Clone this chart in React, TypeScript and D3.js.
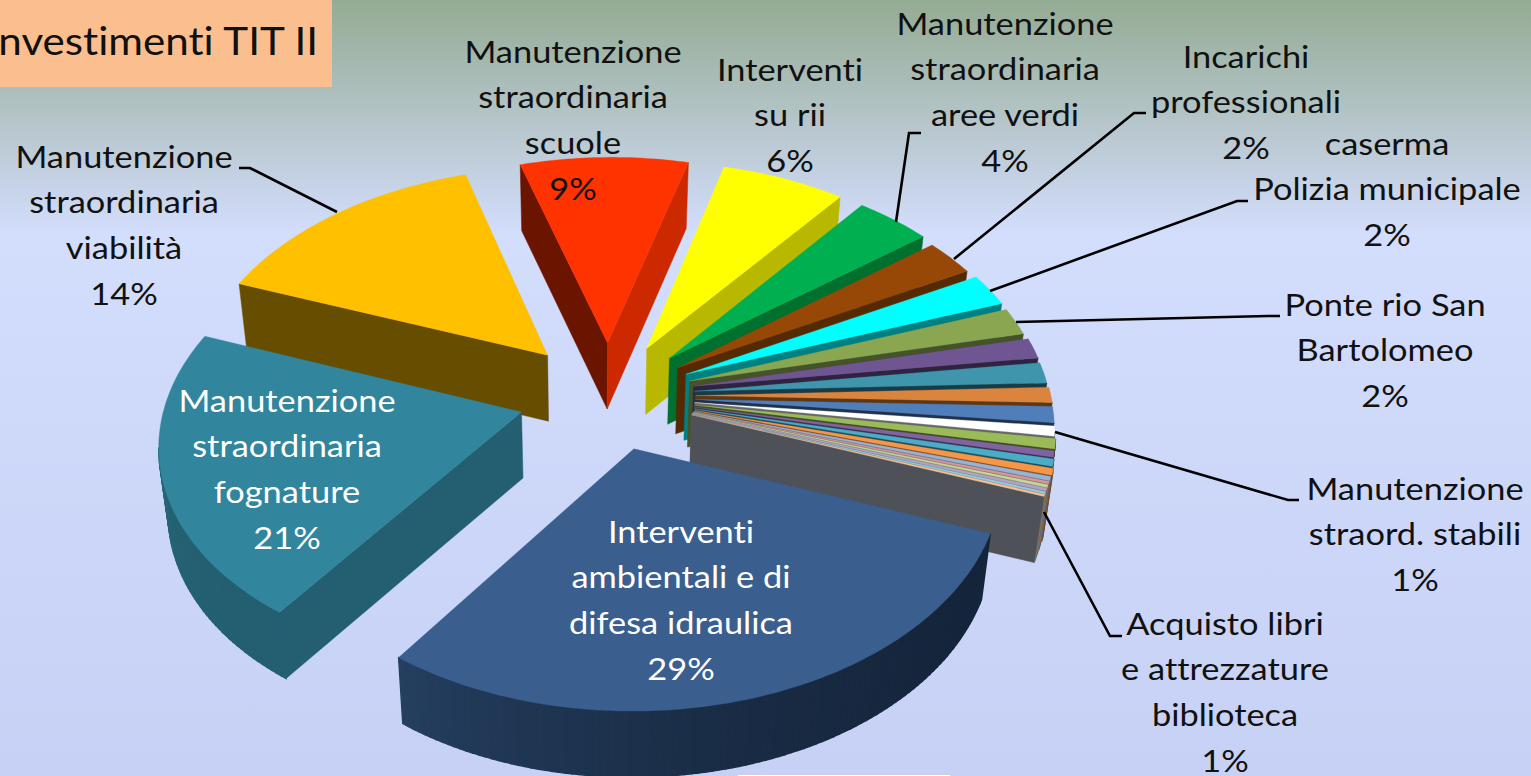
import React from 'react';
import * as d3 from 'd3';

type P = [number, number];

const sliceValues = [29.1, 20.97, 14.5, 8.7, 6.43, 3.95, 2.67, 2.38, 1.99, 1.49, 1.51, 1.12, 1.17, 0.72, 0.71, 0.44, 0.52, 0.48, 0.29, 0.18, 0.2, 0.2, 0.15, 0.15];
const explosions = [0.247, 0.253, 0.26, 0.249, 0.247, 0.246, 0.235, 0.241, 0.239, 0.244, 0.243, 0.245, 0.244, 0.244, 0.247, 0.246, 0.248, 0.251, 0.249, 0.249, 0.248, 0.248, 0.248, 0.248];
const topColors = ['#3A5E8D', '#31859C', '#FFC000', '#FF3300', '#FFFF00', '#00B050', '#974806', '#00FFFF', '#8BA650', '#705593', '#3F95AC', '#DB843D', '#4F7EBB', '#FFFFFF', '#9BBB59', '#8064A2', '#4BACC6', '#F79646', '#95B3D7', '#D99694', '#C3D69B', '#B3A2C7', '#93CDDD', '#FAC090'];
const startWalls = ['#15253B', '#235F70', '#664D00', '#6B1500', '#6B6B00', '#00592A', '#552A03', '#008080', '#46522A', '#2E2340', '#193B45', '#5E3815', '#1E314A', '#666666', '#3F4D24', '#3A2D4A', '#1E4A56', '#7A4A22', '#5A6A80', '#7A5554', '#75805C', '#6B6177', '#5A7B85', '#967356'];
const endWalls = ['#253F60', '#2A7085', '#664D00', '#CC2900', '#B8B800', '#00702F', '#552A03', '#008080', '#46522A', '#2E2340', '#193B45', '#5E3815', '#1E314A', '#666666', '#3F4D24', '#3A2D4A', '#1E4A56', '#7A4A22', '#5A6A80', '#7A5554', '#75805C', '#6B6177', '#5A7B85', '#4F5158'];
const drawOrder = [3, 4, 5, 6, 7, 8, 9, 10, 11, 12, 13, 14, 15, 16, 17, 18, 19, 20, 21, 22, 23, 2, 1, 0];

const firstAngleDeg = 115.33;
const wallDepth = 66;
const homography = [360.2, -45.32, 608.54, -14.35, 172.08, 395.76, 0.00945, -0.11553];
const textStretch = 1.11;

const labels: { cx: number; y0: number; lines: string[]; fill: string }[] = [
  { cx: 573, y0: 52, lines: ['Manutenzione', 'straordinaria', 'scuole', '9%'], fill: '#111' },
  { cx: 790, y0: 70, lines: ['Interventi', 'su rii', '6%'], fill: '#111' },
  { cx: 1005, y0: 24, lines: ['Manutenzione', 'straordinaria', 'aree verdi', '4%'], fill: '#111' },
  { cx: 1246, y0: 57, lines: ['Incarichi', 'professionali', '2%'], fill: '#111' },
  { cx: 1387, y0: 144, lines: ['caserma', 'Polizia municipale', '2%'], fill: '#111' },
  { cx: 1385, y0: 305, lines: ['Ponte rio San', 'Bartolomeo', '2%'], fill: '#111' },
  { cx: 1415, y0: 489, lines: ['Manutenzione', 'straord. stabili', '1%'], fill: '#111' },
  { cx: 1225, y0: 624, lines: ['Acquisto libri', 'e attrezzature', 'biblioteca', '1%'], fill: '#111' },
  { cx: 124, y0: 157, lines: ['Manutenzione', 'straordinaria', 'viabilità', '14%'], fill: '#111' },
  { cx: 287, y0: 401, lines: ['Manutenzione', 'straordinaria', 'fognature', '21%'], fill: '#fff' },
  { cx: 681, y0: 532, lines: ['Interventi', 'ambientali e di', 'difesa idraulica', '29%'], fill: '#fff' },
];
const leaders: P[][] = [
  [[239, 168], [250, 168], [337, 212]],
  [[896, 222], [909, 133], [921, 133]],
  [[954, 259], [1134, 113], [1146, 113]],
  [[990, 291], [1237, 201], [1248, 201]],
  [[1016, 322], [1268, 316], [1280, 316]],
  [[1055, 432], [1288, 500], [1299, 500]],
  [[1044, 512], [1110, 636], [1122, 636]],
];

const project = (x: number, y: number): P => {
  const h = homography;
  const w = h[6] * x + h[7] * y + 1;
  return [(h[0] * x + h[1] * y + h[2]) / w, (h[3] * x + h[4] * y + h[5]) / w];
};
const drop = (p: P): P => [p[0] + (590 - p[0]) * 0.022, p[1] + wallDepth];
const toPts = (a: P[]) => a.map((q) => q[0].toFixed(1) + ',' + q[1].toFixed(1)).join(' ');

const arcs = d3
  .pie<number>()
  .sort(null)
  .value((d) => d)
  .startAngle((firstAngleDeg * Math.PI) / 180)
  .endAngle((firstAngleDeg * Math.PI) / 180 + 2 * Math.PI)(sliceValues);

const lineY = d3.scaleLinear().domain([0, 1]).range([0, 45.6]);

function Slice({ i }: { i: number }) {
  const a = arcs[i];
  const m = (a.startAngle + a.endAngle) / 2;
  const ox = explosions[i] * Math.sin(m);
  const oy = -explosions[i] * Math.cos(m);
  const steps = Math.max(2, Math.ceil(((a.endAngle - a.startAngle) * 180) / Math.PI));
  const t = d3.scaleLinear().domain([0, steps]).range([a.startAngle, a.endAngle]);
  const rim: P[] = d3.range(steps + 1).map((k) => project(ox + Math.sin(t(k)), oy - Math.cos(t(k))));
  const apex = project(ox, oy);
  const faces: JSX.Element[] = [];
  const wall = (p: P, q: P, fill: string, key: string, sw: number) => {
    if (q[0] - p[0] >= 0) return;
    faces.push(<polygon key={key} points={toPts([p, q, drop(q), drop(p)])} fill={fill} stroke={fill} strokeWidth={sw} />);
  };
  const shade = d3.interpolateRgb(startWalls[i], endWalls[i]);
  wall(apex, rim[0], startWalls[i], 's', 0.5);
  for (let k = 0; k < steps; k++) wall(rim[k], rim[k + 1], shade(Math.pow(k / steps, 2)), 'o' + k, 1.4);
  wall(rim[steps], apex, endWalls[i], 'e', 0.5);
  return (
    <g>
      {faces}
      <polygon points={toPts([apex, ...rim])} fill={topColors[i]} stroke={topColors[i]} strokeWidth={0.3} />
    </g>
  );
}

export default function App() {
  const line = d3.line<P>();
  return (
    <svg width={1531} height={776} style={{ position: 'absolute', left: 0, top: 0, display: 'block' }}>
      <defs>
        <linearGradient id="bg" x1="0" y1="0" x2="0" y2="1">
          <stop offset="0" stopColor="#94AB93" />
          <stop offset="0.16" stopColor="#B6C6CB" />
          <stop offset="0.3" stopColor="#D3DDFC" />
          <stop offset="1" stopColor="#C6D1F5" />
        </linearGradient>
      </defs>
      <rect width={1531} height={776} fill="url(#bg)" />
      <rect x={0} y={0} width={332} height={87} fill="#FBBF8F" />
      <text transform={`translate(318,55) scale(${textStretch},1)`} textAnchor="end" fontFamily="Lato" fontSize={38} fill="#111" style={{ fontVariantLigatures: 'none' }}>
        Investimenti TIT II
      </text>
      {drawOrder.map((i) => (
        <Slice key={i} i={i} />
      ))}
      {leaders.map((l, i) => (
        <path key={i} d={line(l) || ''} fill="none" stroke="#000" strokeWidth={2.6} />
      ))}
      {labels.map((l, i) => (
        <g key={i}>
          {l.lines.map((s, j) => (
            <text key={j} transform={`translate(${l.cx},${l.y0 + lineY(j)}) scale(${textStretch},1)`} dy="0.35em" textAnchor="middle" fontFamily="Lato" fontSize={31} fill={l.fill} style={{ fontVariantLigatures: 'none' }}>
              {s}
            </text>
          ))}
        </g>
      ))}
      <rect x={738} y={775} width={212} height={1} fill="#fff" />
    </svg>
  );
}
